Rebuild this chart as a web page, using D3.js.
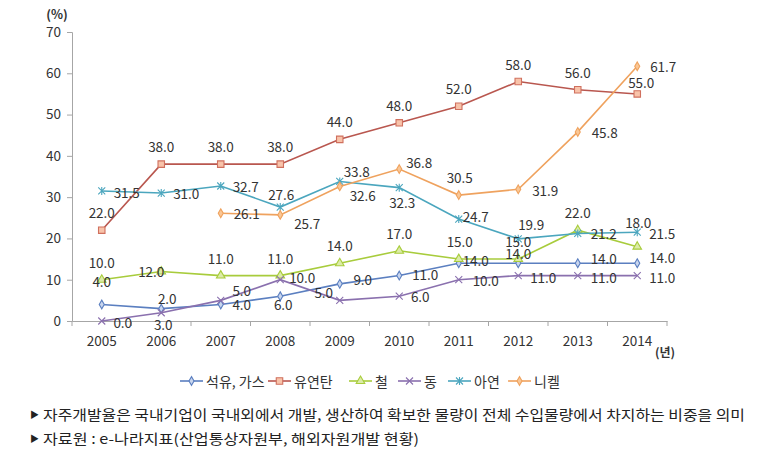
<!DOCTYPE html>
<html><head><meta charset="utf-8">
<script src="https://cdn.jsdelivr.net/npm/d3@7"></script>
<style>
html,body{margin:0;padding:0;background:#fff;}
svg{display:block;font-family:"Noto Sans CJK KR","Noto Sans",sans-serif;}
</style></head>
<body><svg id="c" width="778" height="458"></svg>
<script>
// ---- data ----
const years = ['2005','2006','2007','2008','2009','2010','2011','2012','2013','2014'];
const oilGas = [4.0,3.0,4.0,6.0,9.0,11.0,14.0,14.0,14.0,14.0];
const coal   = [22.0,38.0,38.0,38.0,44.0,48.0,52.0,58.0,56.0,55.0];
const iron   = [10.0,12.0,11.0,11.0,14.0,17.0,15.0,15.0,22.0,18.0];
const copper = [0.0,2.0,5.0,10.0,5.0,6.0,10.0,11.0,11.0,11.0];
const zinc   = [31.5,31.0,32.7,27.6,33.8,32.3,24.7,19.9,21.2,21.5];
const nickel = [null,null,26.1,25.7,32.6,36.8,30.5,31.9,45.8,61.7];
const seriesNames = ['석유, 가스','유연탄','철','동','아연','니켈'];
const yTicks = [0,10,20,30,40,50,60,70];
const yUnit = '(%)';
const xUnit = '(년)';
const notes = ['자주개발율은 국내기업이 국내외에서 개발, 생산하여 확보한 물량이 전체 수입물량에서  차지하는 비중을 의미',
               '자료원 : e-나라지표(산업통상자원부, 해외자원개발 현황)'];

// ---- styles (not data) ----
const styles = [
  {line:'#5B7FC0', stroke:'#5B7FC0', fill:'#C9D6EE', sym:'diamond'},
  {line:'#B9574F', stroke:'#D0705E', fill:'#F8C3AA', sym:'square'},
  {line:'#A8CC3C', stroke:'#A8CC3C', fill:'#DCEBA8', sym:'triangle'},
  {line:'#8A70AE', stroke:'#8A70AE', fill:'none', sym:'x'},
  {line:'#4BA6BE', stroke:'#4BA6BE', fill:'none', sym:'star'},
  {line:'#EFA25E', stroke:'#EFA25E', fill:'#FAC796', sym:'diamond'}
];
// label offsets relative to each point [dx, dy]
const labelOffsets = [
  [[0,-23],[2,15],[21,0],[3,8],[23,-5],[26,-2],[17,-3],[0,-10],[26,-5],[25,-6]],
  [[0,-18],[0,-18],[0,-18],[0,-18],[0,-18],[0,-18],[0,-18],[0,-18],[0,-18],[4,-12]],
  [[0,-18],[-10,0],[0,-18],[0,-18],[0,-18],[0,-18],[1,-18],[0,-18],[0,-18],[1,-25]],
  [[21,1],[6,-15],[21,-10],[22,-3],[-16,-8],[21,0],[27,0],[25,1],[26,1],[25,1]],
  [[25,1],[25,0],[25,0],[1,-13],[17,-10],[3,14],[17,-3],[13,-15],[26,0],[25,1]],
  [null,null,[26,0],[27,8],[23,9],[20,-7],[1,-18],[27,1],[27,0],[26,0]]
];

const allSeries = [oilGas, coal, iron, copper, zinc, nickel];
const svg = d3.select('#c');
const x = d3.scaleBand().domain(years).range([72, 667]).paddingInner(0).paddingOuter(0);
const y = d3.scaleLinear().domain([0, 70]).range([321, 32]);
const cx = d => x(d) + x.bandwidth()/2;
const txt = '#333';

// y axis
const ya = svg.append('g').attr('transform','translate(72,0)')
  .call(d3.axisLeft(y).tickValues(yTicks).tickSize(5).tickPadding(6).tickFormat(d3.format('d')));
ya.select('.domain').attr('stroke','#A6A6A6');
ya.selectAll('.tick line').attr('stroke','#A6A6A6');
ya.selectAll('.tick text').attr('font-size',13.5).attr('fill',txt).attr('font-family','"Noto Sans CJK KR",sans-serif');

// x axis
const xa = svg.append('g').attr('transform','translate(0,321)')
  .call(d3.axisBottom(x).tickSize(0).tickPadding(15));
xa.select('.domain').attr('stroke','#A6A6A6');
xa.selectAll('.tick text').attr('font-size',13.5).attr('fill',txt).attr('font-family','"Noto Sans CJK KR",sans-serif');
const bounds = years.map(d => x(d)).concat([x.range()[1]]);
svg.append('g').selectAll('line').data(bounds).join('line')
  .attr('x1',d=>d).attr('x2',d=>d).attr('y1',321).attr('y2',326).attr('stroke','#A6A6A6');

// units
svg.append('text').attr('x',57).attr('y',13).attr('text-anchor','middle').attr('dominant-baseline','central')
  .attr('font-size',12.5).attr('font-weight','bold').attr('fill',txt).text(yUnit);
svg.append('text').attr('x',655).attr('y',351).attr('dominant-baseline','central')
  .attr('font-size',12).attr('font-weight','bold').attr('fill',txt).text(xUnit);

// marker generator
function markerPath(sym){
  if (sym==='diamond') return d3.symbol(d3.symbolDiamond, 22)();
  if (sym==='square') return d3.symbol(d3.symbolSquare, 42)();
  if (sym==='triangle') return d3.symbol(d3.symbolTriangle, 32)();
  if (sym==='x') return 'M-3.5,-3.5L3.5,3.5M-3.5,3.5L3.5,-3.5';
  if (sym==='star') return 'M-3.5,-3.5L3.5,3.5M-3.5,3.5L3.5,-3.5M0,-4L0,4';
  return '';
}

const line = d3.line().defined(d => d.v !== null).x(d => cx(d.year)).y(d => y(d.v));
const gLines = svg.append('g');
allSeries.forEach((vals, si) => {
  const pts = years.map((yr,i)=>({year:yr, v:vals[i]}));
  const st = styles[si];
  gLines.append('path').datum(pts).attr('d', line).attr('fill','none')
    .attr('stroke', st.line).attr('stroke-width',1.6);
  gLines.append('g').selectAll('path').data(pts.filter(p=>p.v!==null)).join('path')
    .attr('transform', p => `translate(${cx(p.year)},${y(p.v)})`)
    .attr('d', markerPath(st.sym))
    .attr('fill', st.fill).attr('stroke', st.stroke).attr('stroke-width', 1.1);
});

// labels
const gLab = svg.append('g');
allSeries.forEach((vals, si) => {
  vals.forEach((v, i) => {
    if (v === null) return;
    const off = labelOffsets[si][i] || [0,-18];
    gLab.append('text').attr('x', cx(years[i]) + off[0]).attr('y', y(v) + off[1])
      .attr('text-anchor','middle').attr('dominant-baseline','central')
      .attr('font-size',13.5).attr('fill',txt).text(d3.format('.1f')(v));
  });
});

// legend
const legX = [180, 268, 349, 398, 448, 508];
const legY = 381;
const leg = svg.append('g');
seriesNames.forEach((name, si) => {
  const st = styles[si];
  const g = leg.append('g').attr('transform', `translate(${legX[si]},${legY})`);
  g.append('line').attr('x1',0).attr('x2',23).attr('y1',0).attr('y2',0).attr('stroke',st.line).attr('stroke-width',1.6);
  g.append('path').attr('transform','translate(11.5,0)').attr('d', markerPath(st.sym))
    .attr('fill', st.fill).attr('stroke', st.stroke).attr('stroke-width',1.1);
  g.append('text').attr('x',26).attr('y',0).attr('dominant-baseline','central')
    .attr('font-size',14).attr('fill',txt).text(name);
});

// notes
const noteY = [414, 438];
const noteLen = [702, 376];
notes.forEach((t, i) => {
  svg.append('text').attr('x',30).attr('y',noteY[i]).attr('dominant-baseline','central')
    .attr('font-size',9).attr('fill','#222').text('▶');
  svg.append('text').attr('x',43).attr('y',noteY[i]).attr('dominant-baseline','central')
    .attr('font-size',14).attr('fill','#222')
    .attr('textLength', noteLen[i]).attr('lengthAdjust','spacingAndGlyphs').text(t);
});
</script></body></html>
